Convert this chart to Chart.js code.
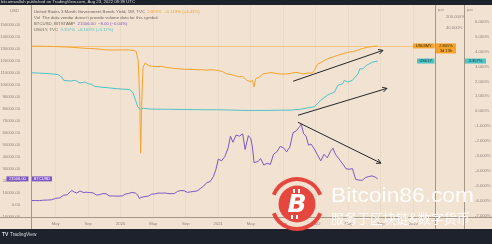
<!DOCTYPE html>
<html>
<head>
<meta charset="utf-8">
<script src="https://cdn.jsdelivr.net/npm/chart.js@4.4.1/dist/chart.umd.min.js"></script>
<style>
  html, body { margin: 0; padding: 0; background: #1e222d; }
  #wrap { width: 492px; height: 244px; }
</style>
</head>
<body>
<div id="wrap"><canvas id="chart" width="492" height="244"></canvas></div>
<script>
// x = months since Jan 2019 (12 = Jan 2020)
const btcMonths = [0.97, 1.5, 2.0, 2.5, 3.0, 3.5, 4.0, 4.5, 5.0, 5.4, 5.8, 6.0, 6.3, 6.6, 7.0, 7.4, 7.8, 8.2, 8.6, 9.0,
  9.4, 9.8, 10.2, 10.6, 11.0, 11.4, 11.8, 12.2, 12.6, 13.0, 13.4, 13.8, 14.1, 14.3, 14.6, 15.0, 15.4, 15.8, 16.2, 16.6,
  17.0, 17.4, 17.8, 18.2, 18.6, 19.0, 19.4, 19.8, 20.2, 20.6, 21.0, 21.4, 21.8, 22.2, 22.6, 23.0, 23.4, 23.7, 24.0, 24.4,
  24.8, 25.2, 25.5, 25.8, 26.2, 26.6, 27.0, 27.3, 27.7, 28.0, 28.2, 28.4, 28.9, 29.2, 29.6, 30.0, 30.4, 30.8, 31.2, 31.6,
  32.0, 32.4, 32.8, 33.2, 33.6, 34.0, 34.2, 34.5, 34.8, 35.1, 35.4, 35.8, 36.2, 36.6, 37.0, 37.4, 37.8, 38.1, 38.4, 38.8,
  39.3, 39.7, 40.1, 40.5, 40.9, 41.3, 41.7, 42.1, 42.5, 42.9, 43.3, 43.6];
const btcPrices = [3550, 3450, 3450, 3800, 3900, 4100, 5300, 5700, 8000, 8200, 10800, 11800, 10500, 9800, 11400, 10200, 10400, 10100, 9900, 8100,
  8300, 9300, 9100, 7400, 7300, 7200, 7200, 7400, 8900, 9400, 10300, 9700, 8000, 5200, 6300, 6800, 7200, 8800, 9000, 9700,
  9600, 9800, 9300, 9200, 9300, 11100, 11800, 11600, 10300, 10700, 11100, 11500, 13500, 15500, 18500, 19200, 23500, 29000, 38000, 36500,
  40000, 47000, 57000, 52000, 58000, 57000, 59000, 46000, 57500, 55000, 48000, 35000, 36000, 38500, 33000, 34500, 33500, 42000, 44000, 48500,
  47500, 44000, 48000, 60000, 61500, 65000, 67000, 59000, 57000, 49500, 50500, 46500, 41500, 36500, 42000, 39000, 44500, 47000, 42000, 38500,
  34000, 30000, 29500, 30000, 21000, 20500, 20300, 22500, 23500, 24000, 23000, 21506];

const us03myMonths = [0.97, 2, 3, 4, 5, 6, 7, 8, 9, 10, 11, 12, 13, 13.5, 13.9, 14.15, 14.35, 14.45, 14.6, 14.75,
  15, 15.5, 16, 16.5, 17, 17.5, 18, 18.5, 19, 19.5, 20, 20.5, 21, 21.5, 22, 22.5, 23, 23.5, 24, 24.5,
  25, 25.5, 26, 26.5, 27, 27.5, 28, 28.2, 28.4, 28.6, 29, 29.5, 30, 30.5, 31, 31.5, 32, 32.5, 33, 33.5,
  34, 34.5, 35, 35.5, 35.8, 36.2, 36.6, 37, 37.5, 38, 38.7, 39.3, 39.9, 40.5, 41, 41.6, 42, 42.4, 43, 43.6];
const us03myYields = [2.7, 2.68, 2.62, 2.55, 2.45, 2.3, 2.1, 1.95, 1.85, 1.62, 1.55, 1.58, 1.58, 1.5, 1.27, 0.35, 0.0011, 0.00000054, 0.0011, 0.133,
  0.236, 0.16, 0.147, 0.14, 0.15, 0.13, 0.12, 0.11, 0.105, 0.1, 0.095, 0.098, 0.093, 0.09, 0.091, 0.085, 0.09, 0.088, 0.08, 0.07,
  0.051, 0.045, 0.04, 0.033, 0.035, 0.02, 0.016, 0.02, 0.0075, 0.025, 0.03, 0.05, 0.055, 0.06, 0.055, 0.05, 0.048, 0.05, 0.055, 0.062,
  0.056, 0.05, 0.056, 0.055, 0.08, 0.2, 0.25, 0.34, 0.45, 0.55, 0.72, 0.9, 1.12, 1.25, 1.4, 1.85, 2.1, 2.35, 2.6, 2.805];

const us01yMonths = [0.97, 2, 3.3, 4.3, 4.75, 5, 5.8, 6.4, 7, 7.6, 8, 8.4, 8.8, 9.4, 10.3, 11.5, 13.1, 13.5, 13.9, 14.1,
  14.4, 14.8, 15.5, 16.5, 18, 19.5, 21, 22.5, 24, 25.5, 27, 28.5, 30, 31.5, 33, 34, 35, 35.8, 36.6, 37.4,
  38.3, 38.7, 39.3, 39.5, 39.9, 40.5, 41.2, 41.4, 41.8, 42.2, 42.6, 43, 43.6];
const us01yYields = [2.58, 2.55, 2.51, 2.45, 2.29, 2.07, 2.02, 2.07, 1.89, 1.95, 1.85, 1.8, 1.67, 1.62, 1.58, 1.51, 1.45, 1.25, 0.62, 0.29,
  0.13, 0.2, 0.15, 0.14, 0.13, 0.12, 0.11, 0.1, 0.1, 0.08, 0.06, 0.05, 0.06, 0.07, 0.08, 0.13, 0.22, 0.3, 0.73, 1.07,
  1.29, 1.73, 1.84, 2.07, 1.95, 2.07, 2.51, 2.84, 2.84, 3.07, 3.18, 3.29, 3.357];

const xTickMonths = [4, 8, 12, 16, 20, 24, 28, 32, 36, 40, 44, 48];
const xTickLabels = ['May', 'Sep', '2020', 'May', 'Sep', '2021', 'May', 'Sep', '2022', 'May', 'Sep', '2023'];
const usdTicks = [-10000, 0, 10000, 20000, 30000, 40000, 50000, 60000, 70000, 80000, 90000, 100000,
  110000, 120000, 130000, 140000, 150000];
const pctTicks = [-7, -6, -5, -4, -3, -2, -1, 0, 1, 2, 3, 4, 5, 6];
const us03myTickValues = [200, 40];
const us03myTickLabels = ['200.000%', '40.000%'];

// hand drawn arrows, in (month, USD) units
const arrows = [
  { from: [33.2, 102700], to: [44.25, 128400] },
  { from: [33.8, 74400], to: [44.75, 96800] },
  { from: [33.8, 68600], to: [44.0, 34600] }
];

const ORANGE = '#f5a32b';
const PURPLE = '#7e57c2';
const CYAN = '#4ec3c6';
const TICK = '#8f857b';
const FONT = '"Liberation Sans", Arial, sans-serif';

const pts = (xs, ys) => xs.map((x, i) => ({ x: x, y: ys[i] }));

function fixedTicks(list) {
    return function (scale) {
        scale.ticks = list.map(v => ({ value: v }));
    };
}

function tag(ctx, text, x, y, w, h, bg, fg) {
    ctx.fillStyle = bg;
    ctx.fillRect(x, y - h / 2, w, h);
    ctx.fillStyle = fg;
    ctx.textAlign = 'center';
    ctx.textBaseline = 'middle';
    ctx.fillText(text, x + w / 2, y + 0.3);
}

function segments(ctx, x, y, list) {
    ctx.textAlign = 'left';
    ctx.textBaseline = 'middle';
    for (const [text, color] of list) {
        ctx.fillStyle = color;
        ctx.fillText(text, x, y);
        x += ctx.measureText(text).width;
    }
}

const frame = {
    id: 'frame',
    beforeDraw(c) {
        const ctx = c.ctx;
        ctx.save();
        ctx.fillStyle = '#1e222d';
        ctx.fillRect(0, 0, c.width, c.height);
        ctx.fillStyle = '#f2e2d2';
        ctx.fillRect(0, 5, c.width, 224);
        ctx.restore();
    },
    afterDraw(c) {
        const ctx = c.ctx;
        const a = c.chartArea;
        const sx = c.scales.x, sb = c.scales.yBtc, so = c.scales.yOrange, sc = c.scales.yCyan;
        ctx.save();

        // axis lines
        ctx.strokeStyle = '#a49787';
        ctx.lineWidth = 1;
        ctx.beginPath();
        ctx.moveTo(0, a.bottom + 0.5); ctx.lineTo(c.width, a.bottom + 0.5);
        ctx.moveTo(a.left + 0.5, 5); ctx.lineTo(a.left + 0.5, 229);
        ctx.moveTo(a.right + 0.5, 5); ctx.lineTo(a.right + 0.5, 229);
        ctx.moveTo(sc.left + 0.5, 5); ctx.lineTo(sc.left + 0.5, 229);
        ctx.stroke();

        // last value line of US03MY
        const yo = so.getPixelForValue(us03myYields[us03myYields.length - 1]);
        ctx.strokeStyle = 'rgba(245,163,43,0.45)';
        ctx.beginPath();
        ctx.moveTo(a.left, Math.round(yo) + 0.5); ctx.lineTo(a.right, Math.round(yo) + 0.5);
        ctx.stroke();

        // arrows
        ctx.strokeStyle = '#262626';
        ctx.lineWidth = 1;
        for (const ar of arrows) {
            const x1 = sx.getPixelForValue(ar.from[0]), y1 = sb.getPixelForValue(ar.from[1]);
            const x2 = sx.getPixelForValue(ar.to[0]), y2 = sb.getPixelForValue(ar.to[1]);
            const ang = Math.atan2(y2 - y1, x2 - x1);
            ctx.beginPath();
            ctx.moveTo(x1, y1); ctx.lineTo(x2, y2);
            ctx.moveTo(x2 - 5 * Math.cos(ang - 0.5), y2 - 5 * Math.sin(ang - 0.5));
            ctx.lineTo(x2, y2);
            ctx.lineTo(x2 - 5 * Math.cos(ang + 0.5), y2 - 5 * Math.sin(ang + 0.5));
            ctx.stroke();
        }

        // texts
        ctx.font = '4.3px ' + FONT;
        segments(ctx, a.left + 3, 12, [
            ['United States 3 Month Government Bonds Yield, 1W, TVC  ', '#6f665e'],
            ['2.805%  +0.119% (+4.43%)', ORANGE]
        ]);
        segments(ctx, a.left + 3, 18, [
            ['Vol  The data vendor doesn\u2019t provide volume data for this symbol.', '#6f665e']
        ]);
        segments(ctx, a.left + 3, 24, [
            ['BTCUSD, BITSTAMP  ', '#6f665e'],
            ['21506.00  \u22128.00 (\u22120.04%)', PURPLE]
        ]);
        segments(ctx, a.left + 3, 30, [
            ['US01Y, TVC  ', '#6f665e'],
            ['3.357%  +0.103% (+3.17%)', CYAN]
        ]);
        segments(ctx, 10, 11, [['USD', TICK]]);
        segments(ctx, a.right + 3, 10, [['pct', TICK]]);
        segments(ctx, sc.left + 3, 10, [['pct', TICK]]);
        segments(ctx, 1, 2, [['bitcoinwallah published on TradingView.com, Aug 23, 2022 08:38 UTC', '#d8d9dc']]);
        ctx.font = 'bold 5px ' + FONT;
        segments(ctx, 2, 235, [['TV', '#d8d9dc']]);
        ctx.font = '4.8px ' + FONT;
        segments(ctx, 10, 235, [['TradingView', '#d8d9dc']]);

        // price tags
        ctx.font = '4px ' + FONT;
        tag(ctx, 'US03MY', a.right - 22, yo, 21.5, 5, ORANGE, '#3b2a12');
        ctx.fillStyle = ORANGE;
        ctx.fillRect(a.right + 1, yo - 2.5, 20, 10);
        ctx.fillStyle = '#3b2a12';
        ctx.textAlign = 'center';
        ctx.fillText('2.805%', a.right + 11, yo + 0.3);
        ctx.fillText('3d 13h', a.right + 11, yo + 5);
        const yc = sc.getPixelForValue(us01yYields[us01yYields.length - 1]);
        tag(ctx, 'US01Y', a.right - 18, yc, 17.5, 5, CYAN, '#10343a');
        tag(ctx, '3.357%', sc.left + 1, yc, 21, 5, CYAN, '#10343a');
        const yb = sb.getPixelForValue(btcPrices[btcPrices.length - 1]);
        tag(ctx, '21506.00', a.left - 24.5, yb, 22, 5, PURPLE, '#ffffff');
        tag(ctx, 'BTCUSD', a.left + 1, yb, 20, 5, PURPLE, '#ffffff');

        // site watermark
        const cx = 297, cy = 204;
        ctx.fillStyle = '#e5463d';
        ctx.beginPath(); ctx.arc(cx, cy, 18.5, 0, Math.PI * 2); ctx.fill();
        ctx.strokeStyle = '#e5463d';
        ctx.lineWidth = 4;
        ctx.beginPath(); ctx.arc(cx, cy, 25, Math.PI * 1.12, Math.PI * 1.88); ctx.stroke();
        ctx.beginPath(); ctx.arc(cx, cy, 25, Math.PI * 0.12, Math.PI * 0.88); ctx.stroke();
        ctx.fillStyle = '#ffffff';
        ctx.font = 'italic bold 25px "DejaVu Sans", sans-serif';
        ctx.textAlign = 'center';
        ctx.textBaseline = 'middle';
        ctx.fillText('B', cx, cy + 1);
        ctx.fillRect(cx - 4, cy - 15, 2, 4);
        ctx.fillRect(cx + 1, cy - 15, 2, 4);
        ctx.fillRect(cx - 6, cy + 11, 2, 4);
        ctx.fillRect(cx - 1, cy + 11, 2, 4);

        ctx.globalAlpha = 0.92;
        ctx.font = '21px ' + FONT;
        ctx.textAlign = 'left';
        ctx.textBaseline = 'alphabetic';
        const w = ctx.measureText('Bitcoin86.com').width;
        ctx.save();
        ctx.translate(331, 201.5);
        ctx.scale(143 / w, 1);
        ctx.fillText('Bitcoin86.com', 0, 0);
        ctx.restore();
        ctx.font = '13px "Noto Sans CJK SC", sans-serif';
        ctx.textBaseline = 'middle';
        ctx.fillText('服务于区块链&数字货币', 331, 218.5);
        ctx.restore();
    }
};

const tickFont = { family: FONT, size: 4.2 };

new Chart(document.getElementById('chart'), {
    type: 'line',
    data: {
        datasets: [
            { label: 'US03MY', data: pts(us03myMonths, us03myYields), yAxisID: 'yOrange', borderColor: ORANGE, borderWidth: 1 },
            { label: 'US01Y', data: pts(us01yMonths, us01yYields), yAxisID: 'yCyan', borderColor: CYAN, borderWidth: 1 },
            { label: 'BTCUSD', data: pts(btcMonths, btcPrices), yAxisID: 'yBtc', borderColor: PURPLE, borderWidth: 1 }
        ]
    },
    options: {
        responsive: false,
        animation: false,
        devicePixelRatio: 1,
        layout: { padding: { top: 5, bottom: 15, left: 0, right: 0 } },
        elements: { point: { radius: 0 }, line: { tension: 0 } },
        plugins: { legend: { display: false }, tooltip: { enabled: false } },
        scales: {
            x: {
                type: 'linear',
                min: 0.97,
                max: 50.65,
                afterBuildTicks: fixedTicks(xTickMonths),
                afterFit: s => { s.height = 12; },
                grid: { color: 'rgba(140,110,80,0.07)', drawTicks: false },
                border: { display: false },
                ticks: {
                    autoSkip: false, maxRotation: 0, padding: 4, color: TICK, font: tickFont,
                    callback: v => xTickLabels[xTickMonths.indexOf(v)]
                }
            },
            yBtc: {
                type: 'linear',
                position: 'left',
                min: -10200,
                max: 165700,
                afterBuildTicks: fixedTicks(usdTicks),
                afterFit: s => { s.width = 31; },
                grid: { display: false },
                border: { display: false },
                ticks: { autoSkip: false, padding: 3, color: TICK, font: tickFont, callback: v => v.toFixed(2) }
            },
            yOrange: {
                type: 'logarithmic',
                position: 'right',
                weight: 0,
                min: 5.4e-11,
                max: 953,
                afterBuildTicks: fixedTicks(us03myTickValues),
                afterFit: s => { s.width = 29; },
                grid: { display: false },
                border: { display: false },
                ticks: {
                    autoSkip: false, padding: 3, color: TICK, font: tickFont,
                    callback: v => us03myTickLabels[us03myTickValues.indexOf(v)]
                }
            },
            yCyan: {
                type: 'linear',
                position: 'right',
                weight: 1,
                min: -7.07,
                max: 7.07,
                afterBuildTicks: fixedTicks(pctTicks),
                afterFit: s => { s.width = 28; },
                grid: { display: false },
                border: { display: false },
                ticks: { autoSkip: false, padding: 3, color: TICK, font: tickFont, callback: v => v.toFixed(3) + '%' }
            }
        }
    },
    plugins: [frame]
});
</script>
</body>
</html>
